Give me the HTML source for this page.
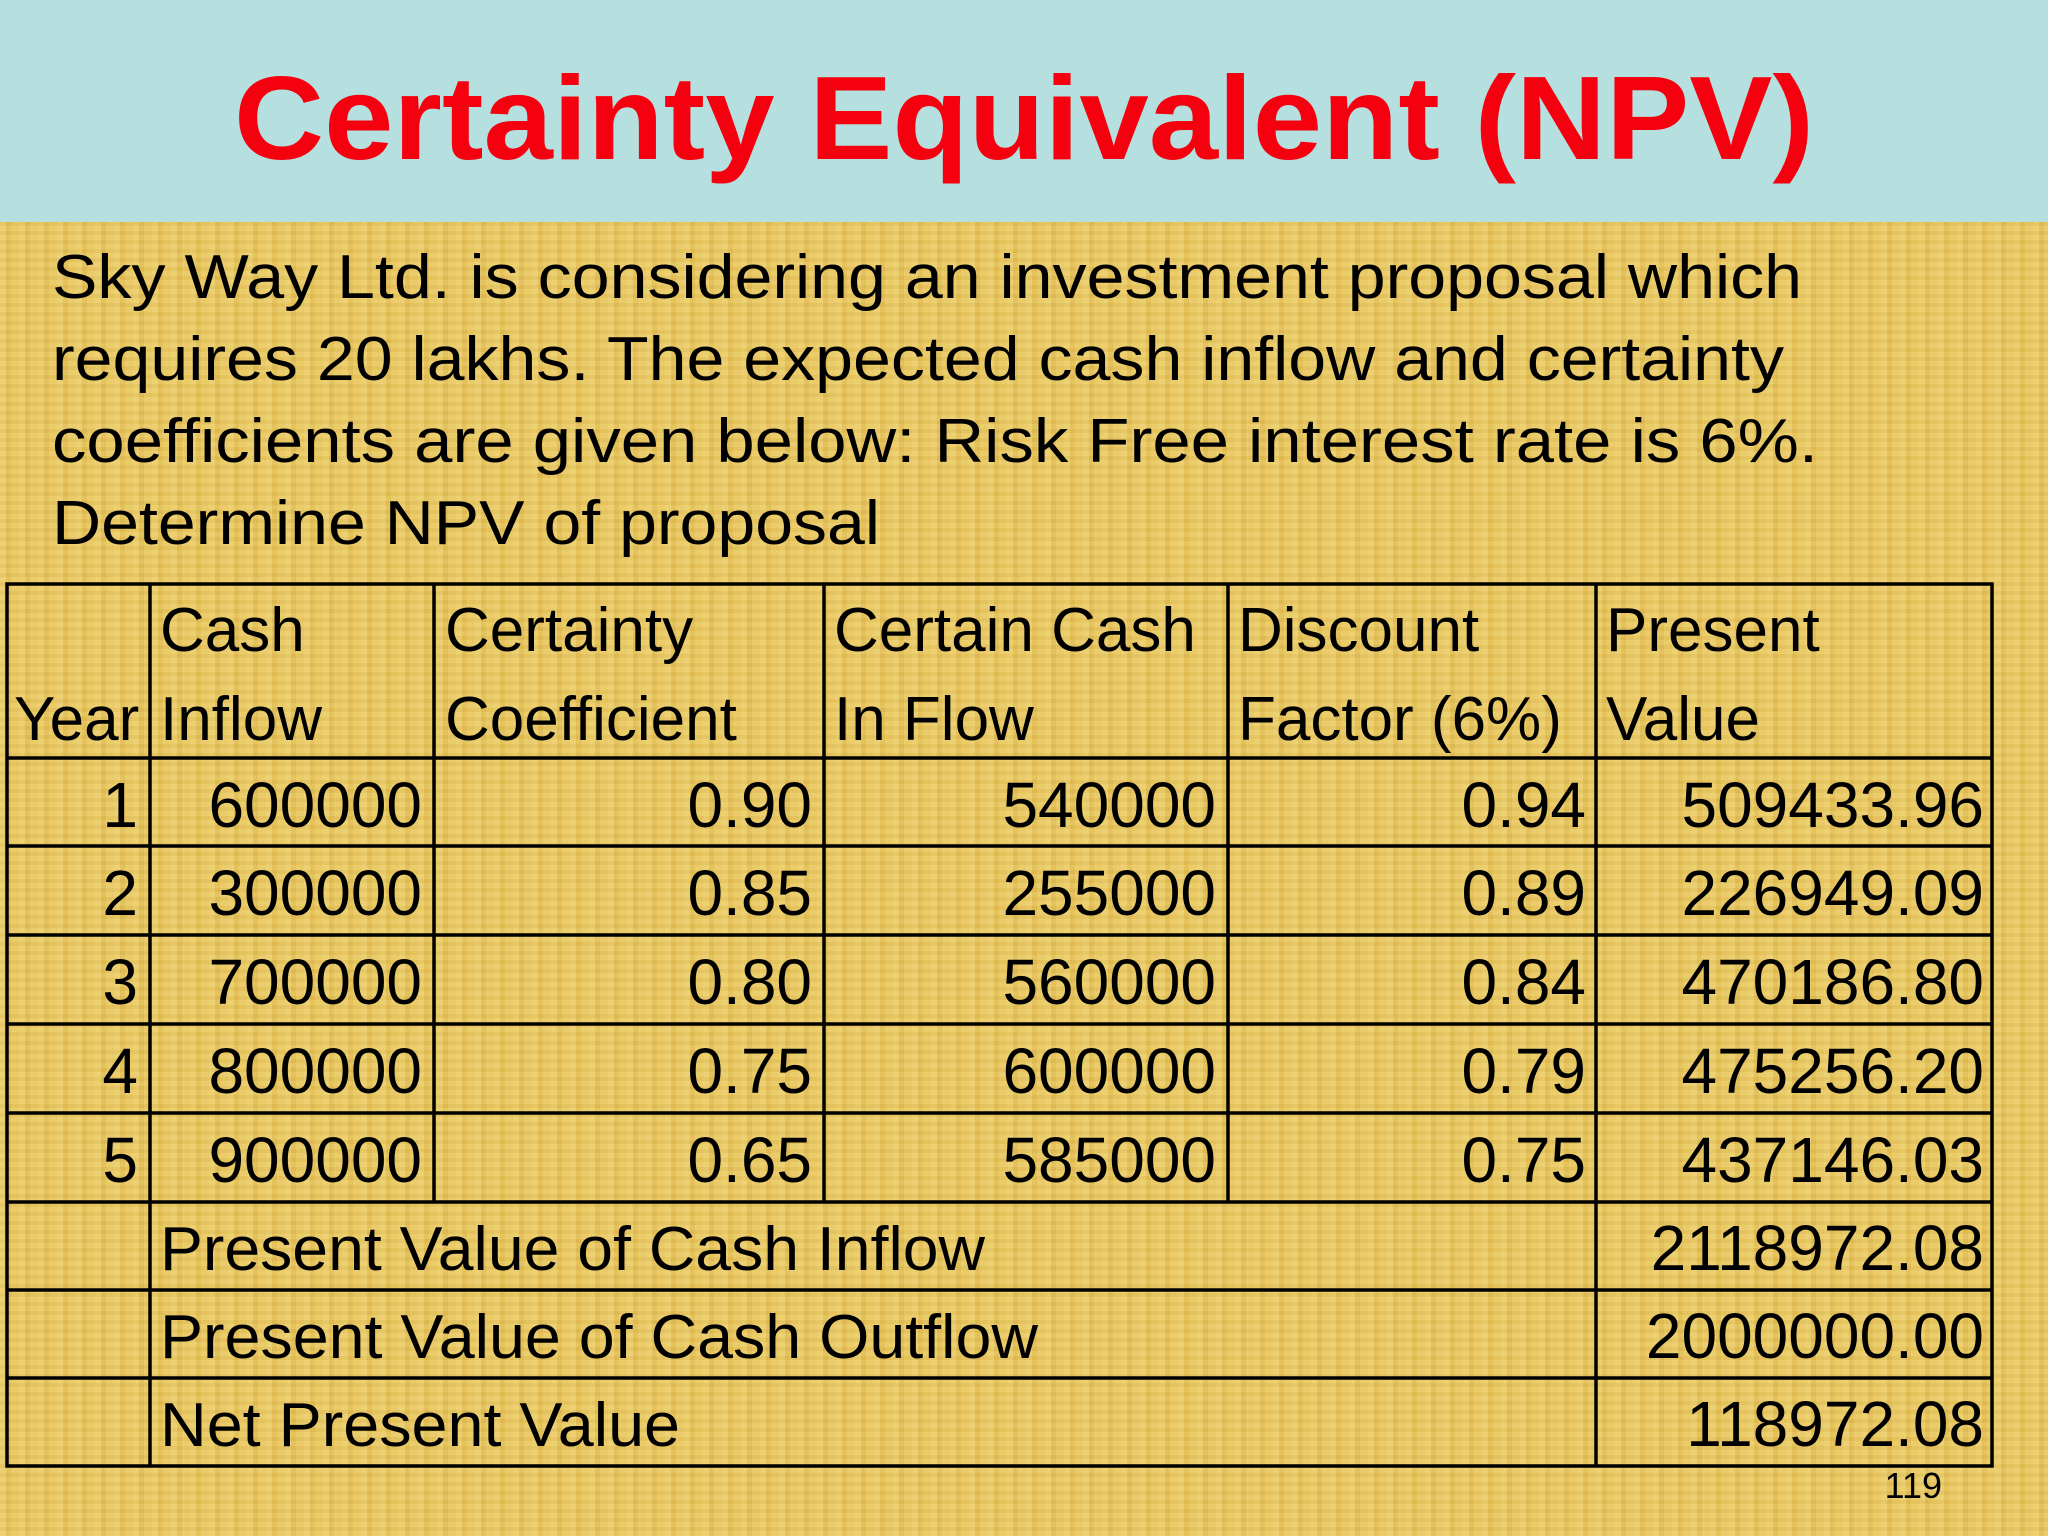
<!DOCTYPE html>
<html><head><meta charset="utf-8"><style>
html,body{margin:0;padding:0;}
body{width:2048px;height:1536px;overflow:hidden;position:relative;
background:#e5c45c;
background-image:repeating-linear-gradient(90deg,rgba(255,240,170,0.18) 0 6px,rgba(200,150,40,0.12) 6px 11px,rgba(255,230,150,0.1) 11px 19px),
repeating-linear-gradient(0deg,rgba(255,240,170,0.12) 0 5px,rgba(190,140,40,0.1) 5px 9px);}
svg{position:absolute;left:0;top:0;}
text{font-family:"Liberation Sans",Arial,sans-serif;}
</style></head><body>
<svg width="2048" height="1536" viewBox="0 0 2048 1536">
<rect x="0" y="0" width="2048" height="222" fill="#b6e0df"/>
<text x="1024" y="159" text-anchor="middle" font-size="119" font-weight="bold" fill="#f5000f" textLength="1580" lengthAdjust="spacingAndGlyphs">Certainty Equivalent (NPV)</text>
<g font-size="62" fill="#000">
<text x="52" y="298" textLength="1750" lengthAdjust="spacingAndGlyphs">Sky Way Ltd. is considering an investment proposal which</text>
<text x="52" y="380" textLength="1732" lengthAdjust="spacingAndGlyphs">requires 20 lakhs. The expected cash inflow and certainty</text>
<text x="52" y="462" textLength="1766" lengthAdjust="spacingAndGlyphs">coefficients are given below:  Risk Free interest rate is 6%.</text>
<text x="52" y="544" textLength="828" lengthAdjust="spacingAndGlyphs">Determine NPV of proposal</text>
</g>
<g stroke="#000" stroke-width="3.5" fill="none">
<rect x="7" y="584" width="1985" height="882"/>
<line x1="7" y1="758" x2="1992" y2="758"/>
<line x1="7" y1="846" x2="1992" y2="846"/>
<line x1="7" y1="935" x2="1992" y2="935"/>
<line x1="7" y1="1024" x2="1992" y2="1024"/>
<line x1="7" y1="1113" x2="1992" y2="1113"/>
<line x1="7" y1="1202" x2="1992" y2="1202"/>
<line x1="7" y1="1290" x2="1992" y2="1290"/>
<line x1="7" y1="1378" x2="1992" y2="1378"/>
<line x1="150" y1="584" x2="150" y2="1466"/>
<line x1="434" y1="584" x2="434" y2="1202"/>
<line x1="824" y1="584" x2="824" y2="1202"/>
<line x1="1228" y1="584" x2="1228" y2="1202"/>
<line x1="1596" y1="584" x2="1596" y2="1466"/>
</g>
<g font-size="62" fill="#000">
<text x="14" y="740">Year</text>
<text x="160" y="651">Cash</text><text x="160" y="740">Inflow</text>
<text x="445" y="651">Certainty</text><text x="445" y="740">Coefficient</text>
<text x="834" y="651">Certain Cash</text><text x="834" y="740">In Flow</text>
<text x="1238" y="651">Discount</text><text x="1238" y="740">Factor (6%)</text>
<text x="1606" y="651">Present</text><text x="1606" y="740">Value</text>
</g>
<g font-size="64" fill="#000" text-anchor="end">
<text x="138" y="827">1</text><text x="422" y="827">600000</text><text x="812" y="827">0.90</text><text x="1216" y="827">540000</text><text x="1586" y="827">0.94</text><text x="1984" y="827">509433.96</text>
<text x="138" y="915">2</text><text x="422" y="915">300000</text><text x="812" y="915">0.85</text><text x="1216" y="915">255000</text><text x="1586" y="915">0.89</text><text x="1984" y="915">226949.09</text>
<text x="138" y="1004">3</text><text x="422" y="1004">700000</text><text x="812" y="1004">0.80</text><text x="1216" y="1004">560000</text><text x="1586" y="1004">0.84</text><text x="1984" y="1004">470186.80</text>
<text x="138" y="1093">4</text><text x="422" y="1093">800000</text><text x="812" y="1093">0.75</text><text x="1216" y="1093">600000</text><text x="1586" y="1093">0.79</text><text x="1984" y="1093">475256.20</text>
<text x="138" y="1182">5</text><text x="422" y="1182">900000</text><text x="812" y="1182">0.65</text><text x="1216" y="1182">585000</text><text x="1586" y="1182">0.75</text><text x="1984" y="1182">437146.03</text>
<text x="1984" y="1270">2118972.08</text>
<text x="1984" y="1358">2000000.00</text>
<text x="1984" y="1446">118972.08</text>
</g>
<g font-size="62" fill="#000">
<text x="160" y="1270" textLength="825" lengthAdjust="spacingAndGlyphs">Present Value of Cash Inflow</text>
<text x="160" y="1358" textLength="878" lengthAdjust="spacingAndGlyphs">Present Value of Cash Outflow</text>
<text x="160" y="1446" textLength="520" lengthAdjust="spacingAndGlyphs">Net Present Value</text>
</g>
<text x="1942" y="1498" text-anchor="end" font-size="36" fill="#000">119</text>
</svg>
</body></html>
